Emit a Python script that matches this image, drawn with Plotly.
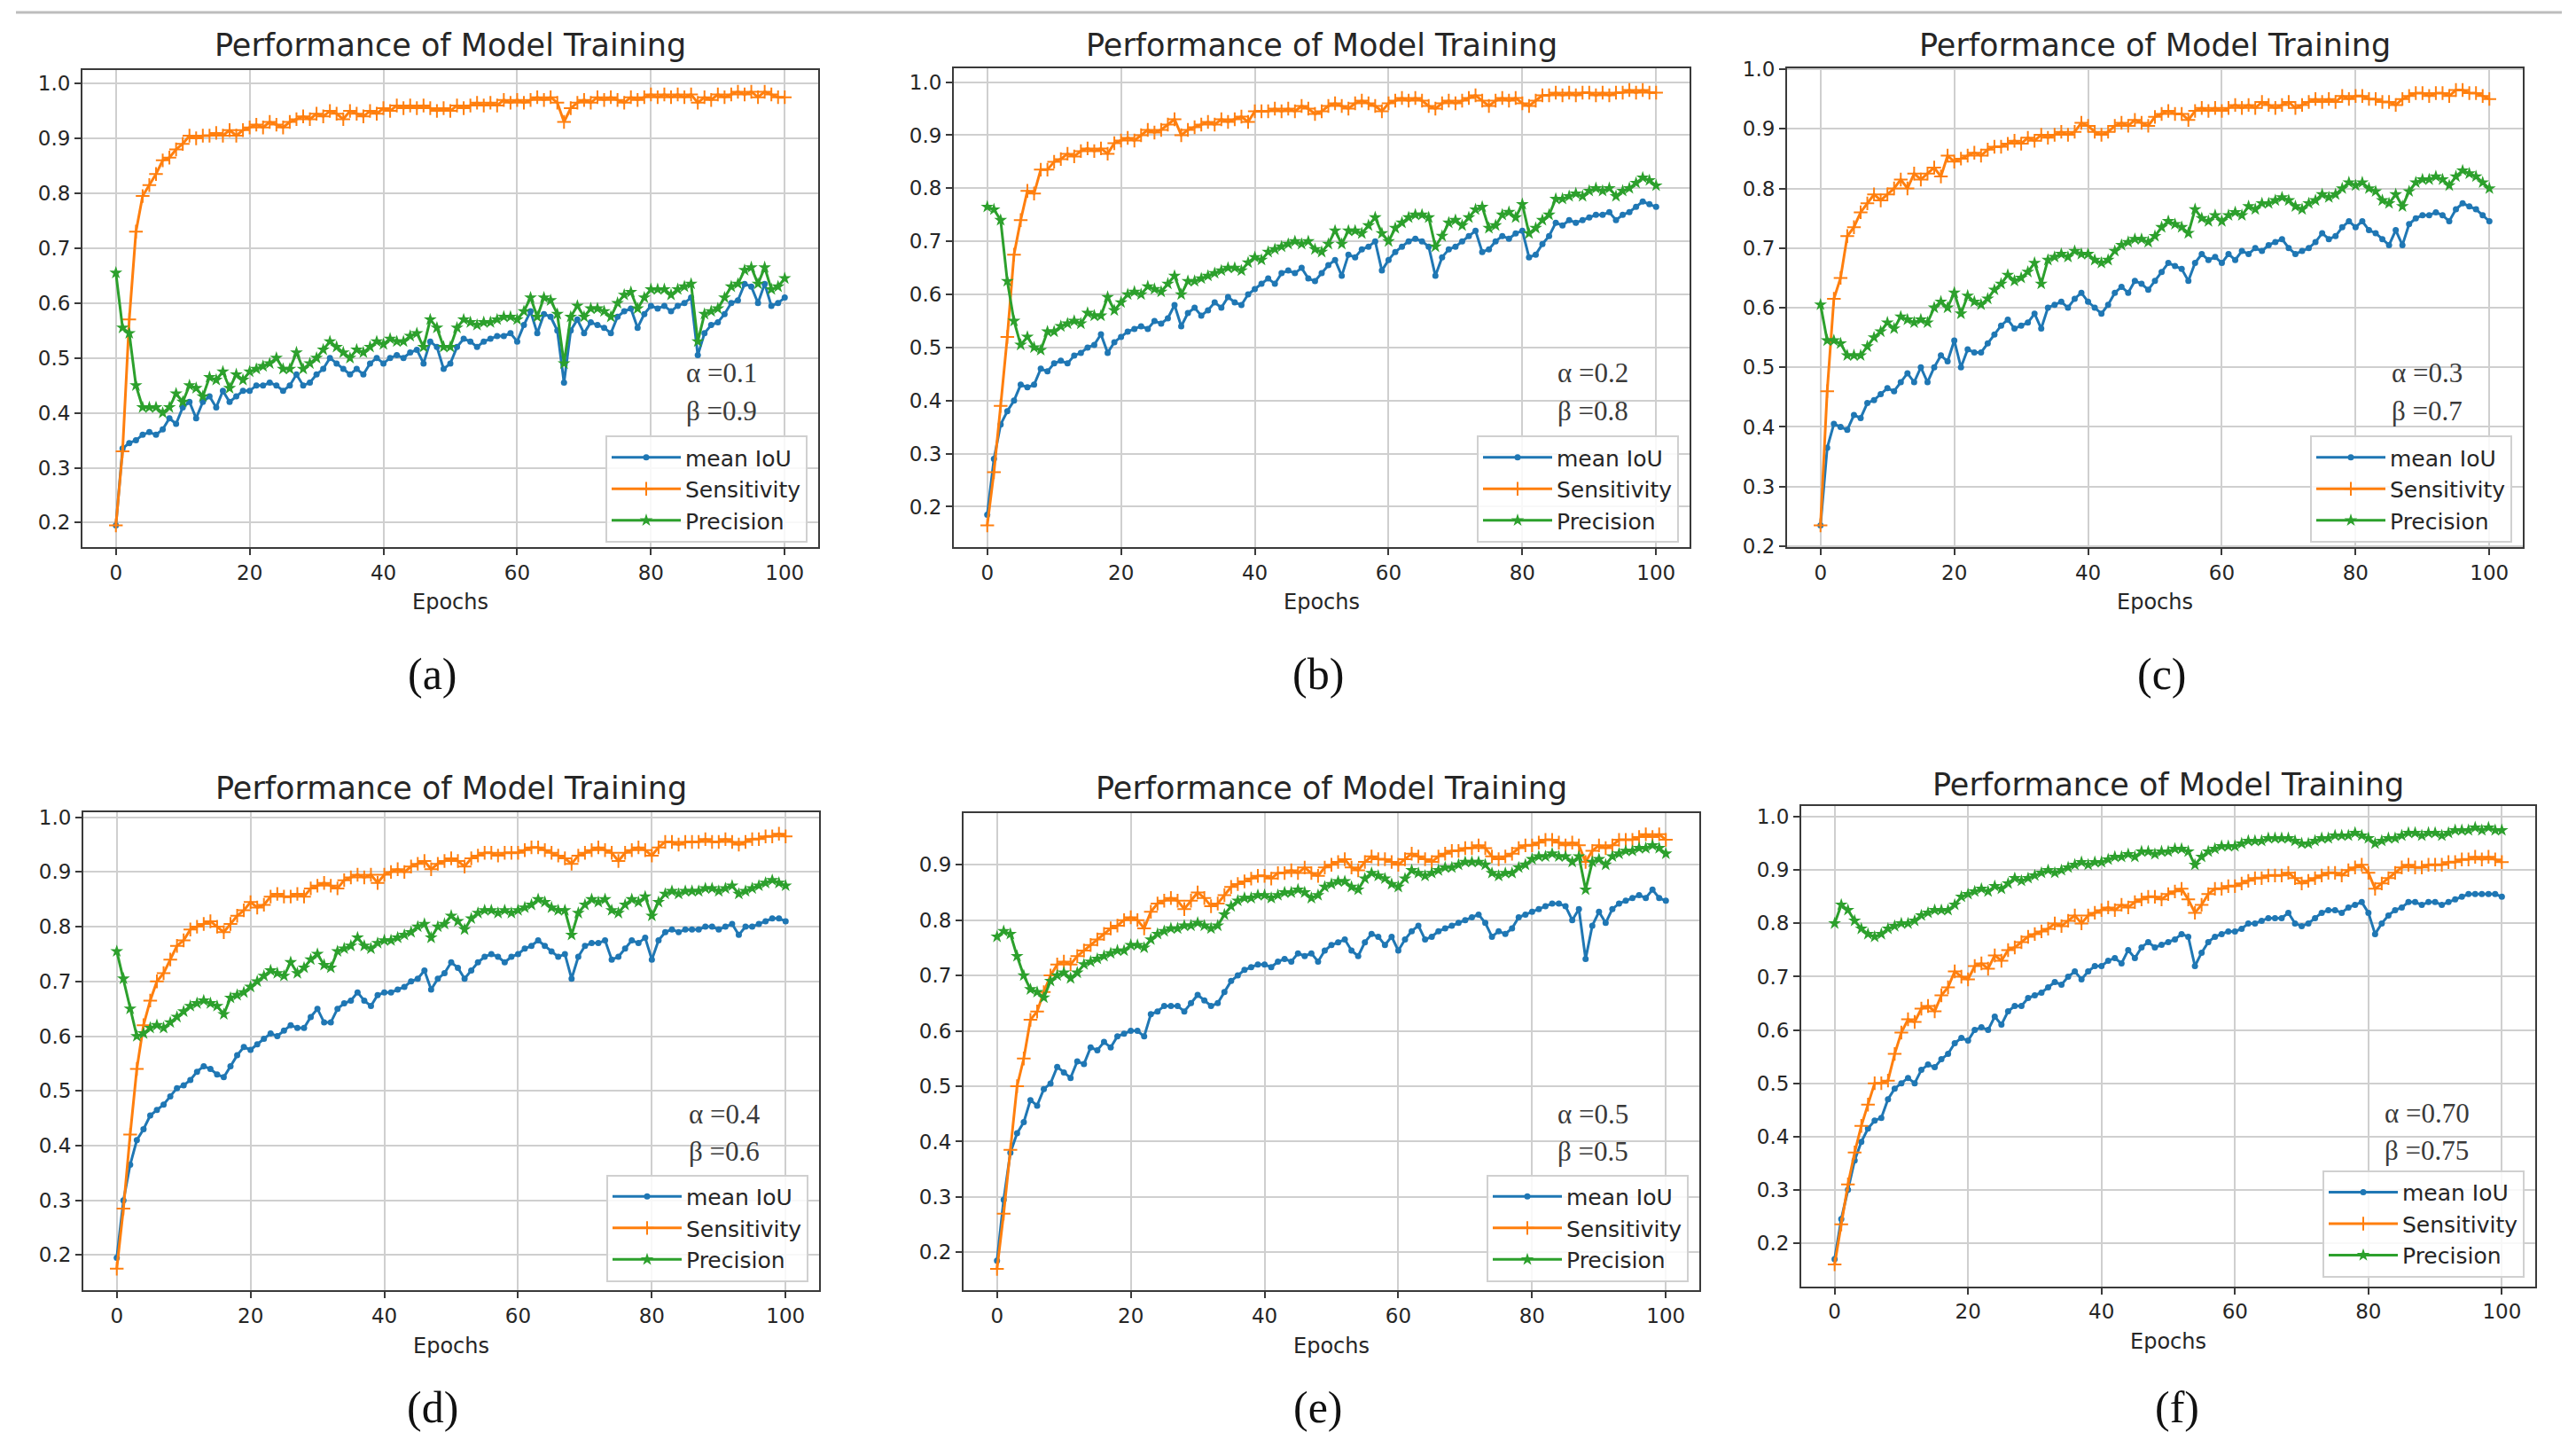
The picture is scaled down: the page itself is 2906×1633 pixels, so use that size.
import plotly.graph_objects as go

W, H = 2906, 1633

# ---------------- data ----------------
epochs = list(range(101))
series_names = ["mean IoU", "Sensitivity", "Precision"]
y_ticks = [0.2, 0.3, 0.4, 0.5, 0.6, 0.7, 0.8, 0.9, 1.0]
x_ticks = [0, 20, 40, 60, 80, 100]

a_iou = [0.195, 0.335, 0.345, 0.35, 0.36, 0.365, 0.36, 0.37, 0.39, 0.38,
         0.41, 0.42, 0.39, 0.42, 0.43, 0.41, 0.44, 0.42, 0.43, 0.44,
         0.44, 0.45, 0.45, 0.455, 0.45, 0.44, 0.45, 0.47, 0.45, 0.455,
         0.47, 0.48, 0.50, 0.49, 0.48, 0.47, 0.48, 0.47, 0.49, 0.50,
         0.49, 0.50, 0.505, 0.50, 0.51, 0.515, 0.49, 0.53, 0.52, 0.48,
         0.49, 0.52, 0.535, 0.53, 0.52, 0.53, 0.535, 0.54, 0.54, 0.545,
         0.53, 0.56, 0.585, 0.545, 0.58, 0.575, 0.55, 0.455, 0.55, 0.57,
         0.545, 0.565, 0.56, 0.555, 0.545, 0.575, 0.585, 0.59, 0.555, 0.58,
         0.595, 0.59, 0.595, 0.585, 0.595, 0.60, 0.61, 0.505, 0.545, 0.56,
         0.565, 0.58, 0.60, 0.605, 0.635, 0.63, 0.60, 0.635, 0.595, 0.60,
         0.61]
a_sens = [0.195, 0.33, 0.57, 0.73, 0.795, 0.815, 0.835, 0.86, 0.865, 0.88,
          0.89, 0.905, 0.90, 0.905, 0.905, 0.91, 0.905, 0.915, 0.905, 0.915,
          0.92, 0.925, 0.92, 0.93, 0.925, 0.92, 0.93, 0.935, 0.94, 0.935,
          0.945, 0.94, 0.95, 0.945, 0.935, 0.95, 0.945, 0.94, 0.95, 0.945,
          0.955, 0.95, 0.96, 0.955, 0.96, 0.955, 0.96, 0.955, 0.95, 0.955,
          0.95, 0.96, 0.955, 0.96, 0.965, 0.96, 0.965, 0.96, 0.97, 0.965,
          0.97, 0.965, 0.97, 0.975, 0.97, 0.975, 0.965, 0.93, 0.955, 0.965,
          0.97, 0.965, 0.975, 0.97, 0.975, 0.97, 0.965, 0.975, 0.97, 0.975,
          0.98, 0.975, 0.98, 0.975, 0.98, 0.975, 0.98, 0.965, 0.975, 0.97,
          0.98, 0.975, 0.98, 0.985, 0.98, 0.985, 0.975, 0.985, 0.98, 0.975,
          0.975]
a_prec = [0.655, 0.555, 0.545, 0.45, 0.41, 0.41, 0.41, 0.40, 0.41, 0.435,
          0.42, 0.45, 0.445, 0.43, 0.465, 0.46, 0.475, 0.445, 0.47, 0.46,
          0.475, 0.48, 0.485, 0.49, 0.50, 0.48, 0.48, 0.51, 0.48, 0.49,
          0.50, 0.515, 0.53, 0.52, 0.51, 0.50, 0.515, 0.51, 0.52, 0.53,
          0.525, 0.535, 0.53, 0.53, 0.54, 0.545, 0.52, 0.57, 0.555, 0.52,
          0.52, 0.555, 0.57, 0.565, 0.56, 0.565, 0.565, 0.57, 0.575, 0.575,
          0.57, 0.585, 0.61, 0.575, 0.61, 0.605, 0.58, 0.49, 0.575, 0.595,
          0.575, 0.59, 0.59, 0.585, 0.575, 0.60, 0.615, 0.62, 0.59, 0.61,
          0.625, 0.625, 0.625, 0.615, 0.625, 0.63, 0.635, 0.53, 0.58, 0.585,
          0.59, 0.61, 0.63, 0.635, 0.66, 0.665, 0.635, 0.665, 0.625, 0.63,
          0.645]

b_iou = [0.185, 0.29, 0.355, 0.38, 0.40, 0.43, 0.425, 0.43, 0.46, 0.455,
         0.47, 0.475, 0.47, 0.485, 0.49, 0.50, 0.505, 0.525, 0.49, 0.51,
         0.52, 0.53, 0.535, 0.54, 0.535, 0.55, 0.545, 0.555, 0.58, 0.54,
         0.565, 0.575, 0.56, 0.57, 0.585, 0.575, 0.595, 0.585, 0.58, 0.60,
         0.61, 0.62, 0.63, 0.62, 0.64, 0.645, 0.64, 0.65, 0.63, 0.625,
         0.64, 0.655, 0.665, 0.635, 0.675, 0.67, 0.685, 0.69, 0.70, 0.645,
         0.665, 0.68, 0.69, 0.70, 0.705, 0.70, 0.69, 0.635, 0.67, 0.685,
         0.69, 0.70, 0.71, 0.72, 0.68, 0.685, 0.70, 0.71, 0.705, 0.715,
         0.72, 0.67, 0.675, 0.695, 0.71, 0.735, 0.73, 0.74, 0.735, 0.74,
         0.745, 0.75, 0.75, 0.755, 0.74, 0.75, 0.755, 0.765, 0.775, 0.77,
         0.765]
b_sens = [0.165, 0.265, 0.39, 0.52, 0.675, 0.74, 0.795, 0.79, 0.835, 0.835,
          0.85, 0.855, 0.865, 0.86, 0.87, 0.875, 0.87, 0.875, 0.865, 0.885,
          0.89, 0.895, 0.89, 0.90, 0.91, 0.905, 0.91, 0.92, 0.93, 0.90,
          0.91, 0.915, 0.92, 0.925, 0.92, 0.93, 0.925, 0.93, 0.935, 0.925,
          0.945, 0.945, 0.945, 0.95, 0.945, 0.95, 0.945, 0.955, 0.95, 0.94,
          0.945, 0.955, 0.96, 0.955, 0.95, 0.96, 0.965, 0.96, 0.955, 0.945,
          0.96, 0.965, 0.97, 0.965, 0.97, 0.965, 0.955, 0.95, 0.96, 0.965,
          0.96, 0.965, 0.97, 0.975, 0.965, 0.955, 0.965, 0.97, 0.965, 0.97,
          0.96, 0.955, 0.965, 0.975, 0.975, 0.98, 0.975, 0.98, 0.975, 0.98,
          0.98, 0.975, 0.98, 0.975, 0.98, 0.98, 0.985, 0.98, 0.985, 0.98,
          0.98]
b_prec = [0.765, 0.76, 0.74, 0.625, 0.55, 0.505, 0.52, 0.50, 0.495, 0.53,
          0.53, 0.54, 0.545, 0.55, 0.545, 0.565, 0.56, 0.56, 0.595, 0.57,
          0.585, 0.60, 0.605, 0.60, 0.615, 0.61, 0.605, 0.62, 0.635, 0.60,
          0.625, 0.625, 0.63, 0.635, 0.64, 0.645, 0.65, 0.65, 0.645, 0.66,
          0.67, 0.665, 0.68, 0.685, 0.69, 0.695, 0.70, 0.695, 0.70, 0.685,
          0.68, 0.695, 0.72, 0.695, 0.72, 0.72, 0.715, 0.73, 0.745, 0.715,
          0.70, 0.725, 0.735, 0.745, 0.75, 0.75, 0.745, 0.69, 0.71, 0.735,
          0.74, 0.73, 0.745, 0.76, 0.765, 0.725, 0.73, 0.75, 0.755, 0.745,
          0.77, 0.715, 0.725, 0.74, 0.75, 0.78, 0.78, 0.785, 0.79, 0.785,
          0.795, 0.80, 0.795, 0.80, 0.785, 0.795, 0.80, 0.81, 0.82, 0.815,
          0.805]

c_iou = [0.235, 0.365, 0.405, 0.40, 0.395, 0.42, 0.415, 0.44, 0.445, 0.455,
         0.465, 0.46, 0.475, 0.49, 0.475, 0.50, 0.475, 0.50, 0.52, 0.51,
         0.545, 0.50, 0.53, 0.525, 0.525, 0.54, 0.555, 0.57, 0.58, 0.565,
         0.57, 0.575, 0.59, 0.565, 0.60, 0.605, 0.61, 0.60, 0.615, 0.625,
         0.61, 0.60, 0.59, 0.605, 0.625, 0.635, 0.625, 0.645, 0.64, 0.63,
         0.645, 0.66, 0.675, 0.67, 0.665, 0.645, 0.675, 0.69, 0.68, 0.685,
         0.675, 0.69, 0.68, 0.695, 0.69, 0.70, 0.695, 0.705, 0.71, 0.715,
         0.70, 0.69, 0.695, 0.70, 0.71, 0.725, 0.715, 0.72, 0.735, 0.745,
         0.735, 0.745, 0.73, 0.725, 0.715, 0.705, 0.73, 0.705, 0.74, 0.75,
         0.755, 0.755, 0.76, 0.755, 0.745, 0.765, 0.775, 0.77, 0.765, 0.755,
         0.745]
c_sens = [0.235, 0.46, 0.615, 0.65, 0.72, 0.735, 0.76, 0.775, 0.79, 0.78,
          0.79, 0.80, 0.815, 0.80, 0.825, 0.815, 0.825, 0.835, 0.82, 0.855,
          0.845, 0.85, 0.855, 0.86, 0.855, 0.865, 0.87, 0.87, 0.875, 0.88,
          0.875, 0.885, 0.88, 0.89, 0.885, 0.89, 0.895, 0.89, 0.895, 0.91,
          0.905, 0.895, 0.89, 0.895, 0.905, 0.91, 0.905, 0.915, 0.91, 0.905,
          0.92, 0.925, 0.93, 0.925, 0.925, 0.915, 0.93, 0.935, 0.93, 0.935,
          0.93, 0.935, 0.94, 0.935, 0.94, 0.935, 0.945, 0.94, 0.935, 0.94,
          0.945, 0.935, 0.94, 0.945, 0.95, 0.945, 0.95, 0.945, 0.955, 0.95,
          0.955, 0.955, 0.95, 0.95, 0.945, 0.945, 0.94, 0.95, 0.955, 0.96,
          0.96, 0.955, 0.96, 0.96, 0.955, 0.965, 0.965, 0.96, 0.96, 0.955,
          0.95]
c_prec = [0.605, 0.545, 0.545, 0.54, 0.52, 0.52, 0.52, 0.535, 0.55, 0.56,
          0.575, 0.565, 0.585, 0.58, 0.575, 0.58, 0.575, 0.60, 0.61, 0.60,
          0.625, 0.59, 0.62, 0.61, 0.605, 0.615, 0.63, 0.64, 0.655, 0.645,
          0.65, 0.66, 0.675, 0.64, 0.68, 0.685, 0.69, 0.685, 0.695, 0.69,
          0.69, 0.68, 0.675, 0.68, 0.695, 0.705, 0.71, 0.715, 0.715, 0.71,
          0.72, 0.735, 0.745, 0.74, 0.735, 0.725, 0.765, 0.75, 0.745, 0.755,
          0.745, 0.755, 0.76, 0.755, 0.77, 0.765, 0.775, 0.775, 0.78, 0.785,
          0.78, 0.77, 0.765, 0.775, 0.78, 0.79, 0.785, 0.79, 0.80, 0.81,
          0.805, 0.81, 0.80, 0.795, 0.78, 0.775, 0.79, 0.77, 0.795, 0.81,
          0.815, 0.815, 0.82, 0.815, 0.805, 0.82, 0.83, 0.825, 0.82, 0.81,
          0.80]

d_iou = [0.195, 0.30, 0.365, 0.41, 0.43, 0.455, 0.465, 0.475, 0.49, 0.505,
         0.51, 0.52, 0.535, 0.545, 0.54, 0.53, 0.525, 0.545, 0.565, 0.58,
         0.575, 0.585, 0.595, 0.605, 0.60, 0.61, 0.62, 0.615, 0.615, 0.635,
         0.65, 0.625, 0.625, 0.65, 0.66, 0.665, 0.68, 0.665, 0.655, 0.675,
         0.68, 0.68, 0.685, 0.69, 0.70, 0.705, 0.72, 0.685, 0.705, 0.715,
         0.735, 0.725, 0.705, 0.72, 0.735, 0.745, 0.75, 0.745, 0.735, 0.745,
         0.75, 0.76, 0.765, 0.775, 0.765, 0.755, 0.745, 0.75, 0.705, 0.745,
         0.765, 0.77, 0.77, 0.775, 0.74, 0.745, 0.76, 0.775, 0.77, 0.78,
         0.74, 0.775, 0.79, 0.795, 0.79, 0.795, 0.795, 0.795, 0.80, 0.80,
         0.795, 0.80, 0.805, 0.785, 0.80, 0.80, 0.805, 0.81, 0.815, 0.815,
         0.81]
d_sens = [0.175, 0.285, 0.42, 0.54, 0.62, 0.665, 0.70, 0.715, 0.74, 0.765,
          0.775, 0.795, 0.80, 0.805, 0.81, 0.80, 0.79, 0.805, 0.82, 0.83,
          0.845, 0.835, 0.84, 0.855, 0.86, 0.855, 0.855, 0.86, 0.855, 0.87,
          0.875, 0.88, 0.875, 0.87, 0.885, 0.89, 0.895, 0.89, 0.895, 0.88,
          0.895, 0.90, 0.905, 0.90, 0.91, 0.915, 0.92, 0.905, 0.915, 0.92,
          0.925, 0.92, 0.91, 0.925, 0.93, 0.935, 0.935, 0.93, 0.935, 0.935,
          0.935, 0.94, 0.945, 0.945, 0.94, 0.935, 0.93, 0.925, 0.915, 0.93,
          0.935, 0.94, 0.945, 0.94, 0.935, 0.92, 0.935, 0.94, 0.945, 0.94,
          0.93, 0.945, 0.955, 0.955, 0.95, 0.955, 0.955, 0.955, 0.96, 0.955,
          0.955, 0.96, 0.955, 0.95, 0.955, 0.96, 0.96, 0.965, 0.965, 0.97,
          0.965]
d_prec = [0.755, 0.705, 0.65, 0.60, 0.605, 0.615, 0.62, 0.615, 0.625, 0.635,
          0.645, 0.655, 0.66, 0.665, 0.66, 0.655, 0.64, 0.67, 0.675, 0.68,
          0.69, 0.70, 0.71, 0.72, 0.715, 0.71, 0.735, 0.715, 0.725, 0.74,
          0.75, 0.73, 0.725, 0.755, 0.76, 0.765, 0.78, 0.765, 0.76, 0.77,
          0.775, 0.775, 0.78, 0.785, 0.79, 0.80, 0.805, 0.78, 0.80, 0.805,
          0.82, 0.81, 0.795, 0.815, 0.825, 0.83, 0.83, 0.825, 0.83, 0.825,
          0.83, 0.835, 0.84, 0.85, 0.845, 0.835, 0.83, 0.83, 0.785, 0.825,
          0.84, 0.85, 0.845, 0.85, 0.83, 0.825, 0.84, 0.85, 0.845, 0.855,
          0.82, 0.845, 0.86, 0.865, 0.86, 0.865, 0.865, 0.865, 0.87, 0.87,
          0.865, 0.87, 0.875, 0.86, 0.865, 0.87, 0.875, 0.88, 0.885, 0.88,
          0.875]

e_iou = [0.185, 0.295, 0.38, 0.415, 0.435, 0.475, 0.465, 0.495, 0.505, 0.535,
         0.525, 0.515, 0.545, 0.54, 0.57, 0.565, 0.58, 0.57, 0.59, 0.595,
         0.60, 0.60, 0.59, 0.63, 0.635, 0.645, 0.645, 0.645, 0.635, 0.65,
         0.665, 0.655, 0.645, 0.65, 0.67, 0.69, 0.70, 0.71, 0.715, 0.72,
         0.72, 0.715, 0.725, 0.73, 0.725, 0.74, 0.735, 0.74, 0.725, 0.745,
         0.755, 0.76, 0.765, 0.745, 0.735, 0.76, 0.775, 0.77, 0.755, 0.77,
         0.745, 0.765, 0.78, 0.79, 0.765, 0.77, 0.78, 0.785, 0.79, 0.795,
         0.80, 0.805, 0.81, 0.795, 0.77, 0.78, 0.775, 0.785, 0.805, 0.81,
         0.815, 0.82, 0.825, 0.83, 0.83, 0.825, 0.80, 0.82, 0.73, 0.79,
         0.815, 0.795, 0.82, 0.83, 0.835, 0.84, 0.845, 0.84, 0.855, 0.84,
         0.835]
e_sens = [0.17, 0.27, 0.385, 0.50, 0.55, 0.62, 0.635, 0.67, 0.70, 0.72,
          0.725, 0.72, 0.735, 0.745, 0.755, 0.765, 0.775, 0.785, 0.79, 0.80,
          0.805, 0.80, 0.785, 0.815, 0.83, 0.835, 0.84, 0.835, 0.82, 0.835,
          0.85, 0.84, 0.825, 0.83, 0.845, 0.86, 0.865, 0.87, 0.875, 0.88,
          0.88, 0.875, 0.885, 0.885, 0.89, 0.885, 0.895, 0.885, 0.88, 0.895,
          0.90, 0.905, 0.91, 0.895, 0.89, 0.905, 0.915, 0.91, 0.91, 0.905,
          0.90, 0.91, 0.92, 0.915, 0.91, 0.905, 0.915, 0.92, 0.925, 0.925,
          0.93, 0.93, 0.935, 0.93, 0.915, 0.91, 0.915, 0.92, 0.93, 0.935,
          0.935, 0.94, 0.945, 0.945, 0.94, 0.935, 0.94, 0.935, 0.905, 0.925,
          0.935, 0.93, 0.935, 0.945, 0.945, 0.945, 0.95, 0.955, 0.95, 0.955,
          0.945]
e_prec = [0.77, 0.78, 0.775, 0.735, 0.70, 0.675, 0.67, 0.66, 0.69, 0.70,
          0.705, 0.695, 0.705, 0.72, 0.725, 0.73, 0.735, 0.74, 0.745, 0.745,
          0.755, 0.755, 0.75, 0.765, 0.775, 0.78, 0.785, 0.785, 0.79, 0.79,
          0.795, 0.79, 0.785, 0.79, 0.81, 0.825, 0.835, 0.84, 0.84, 0.845,
          0.845, 0.84, 0.845, 0.85, 0.85, 0.855, 0.85, 0.84, 0.845, 0.86,
          0.865, 0.87, 0.87, 0.86, 0.855, 0.875, 0.885, 0.88, 0.875, 0.865,
          0.86, 0.875, 0.89, 0.885, 0.88, 0.885, 0.89, 0.895, 0.895, 0.90,
          0.905, 0.905, 0.905, 0.90, 0.885, 0.88, 0.885, 0.885, 0.895, 0.90,
          0.91, 0.915, 0.915, 0.92, 0.915, 0.915, 0.905, 0.915, 0.855, 0.905,
          0.91, 0.90, 0.915, 0.92, 0.925, 0.925, 0.93, 0.93, 0.935, 0.93,
          0.92]

f_iou = [0.17, 0.245, 0.30, 0.355, 0.39, 0.415, 0.43, 0.435, 0.47, 0.49,
         0.50, 0.51, 0.50, 0.525, 0.535, 0.53, 0.545, 0.555, 0.575, 0.585,
         0.58, 0.60, 0.605, 0.60, 0.625, 0.61, 0.635, 0.645, 0.645, 0.66,
         0.665, 0.67, 0.68, 0.69, 0.685, 0.70, 0.71, 0.695, 0.71, 0.72,
         0.72, 0.73, 0.735, 0.725, 0.75, 0.735, 0.755, 0.765, 0.755, 0.76,
         0.765, 0.77, 0.78, 0.775, 0.72, 0.745, 0.765, 0.775, 0.78, 0.785,
         0.785, 0.79, 0.80, 0.80, 0.805, 0.81, 0.81, 0.81, 0.82, 0.80,
         0.795, 0.80, 0.81, 0.82, 0.825, 0.825, 0.82, 0.83, 0.835, 0.84,
         0.82, 0.78, 0.80, 0.815, 0.825, 0.83, 0.84, 0.84, 0.835, 0.84,
         0.84, 0.835, 0.84, 0.845, 0.85, 0.855, 0.855, 0.855, 0.855, 0.855,
         0.85]
f_sens = [0.16, 0.235, 0.31, 0.37, 0.42, 0.46, 0.50, 0.50, 0.505, 0.555,
          0.595, 0.62, 0.615, 0.64, 0.645, 0.635, 0.665, 0.68, 0.71, 0.70,
          0.695, 0.72, 0.725, 0.715, 0.74, 0.73, 0.75, 0.755, 0.765, 0.775,
          0.78, 0.785, 0.79, 0.80, 0.795, 0.805, 0.815, 0.80, 0.815, 0.82,
          0.825, 0.83, 0.825, 0.835, 0.83, 0.84, 0.845, 0.85, 0.85, 0.845,
          0.855, 0.86, 0.865, 0.845, 0.82, 0.835, 0.855, 0.865, 0.865, 0.87,
          0.87, 0.875, 0.88, 0.885, 0.885, 0.89, 0.89, 0.89, 0.895, 0.885,
          0.875, 0.88, 0.885, 0.89, 0.895, 0.895, 0.89, 0.90, 0.905, 0.91,
          0.895, 0.865, 0.875, 0.885, 0.895, 0.905, 0.91, 0.905, 0.905, 0.91,
          0.91, 0.91, 0.915, 0.915, 0.92, 0.92, 0.925, 0.92, 0.925, 0.92,
          0.915]
f_prec = [0.80, 0.835, 0.825, 0.805, 0.79, 0.78, 0.775, 0.78, 0.79, 0.795,
          0.80, 0.80, 0.805, 0.815, 0.82, 0.825, 0.825, 0.825, 0.835, 0.85,
          0.855, 0.86, 0.865, 0.86, 0.87, 0.865, 0.875, 0.885, 0.88, 0.885,
          0.89, 0.895, 0.90, 0.895, 0.90, 0.905, 0.91, 0.915, 0.91, 0.915,
          0.915, 0.92, 0.925, 0.925, 0.93, 0.925, 0.935, 0.935, 0.93, 0.935,
          0.935, 0.94, 0.94, 0.935, 0.91, 0.925, 0.935, 0.94, 0.945, 0.945,
          0.945, 0.95, 0.955, 0.955, 0.955, 0.96, 0.96, 0.96, 0.96, 0.955,
          0.95, 0.95, 0.955, 0.96, 0.96, 0.965, 0.965, 0.965, 0.97, 0.965,
          0.96, 0.95, 0.955, 0.96, 0.96, 0.965, 0.97, 0.97, 0.965, 0.97,
          0.97, 0.965, 0.97, 0.975, 0.975, 0.975, 0.98, 0.975, 0.98, 0.975,
          0.975]

alpha_labels = ["α =0.1", "α =0.2", "α =0.3", "α =0.4", "α =0.5", "α =0.70"]
beta_labels = ["β =0.9", "β =0.8", "β =0.7", "β =0.6", "β =0.5", "β =0.75"]
captions = ["(a)", "(b)", "(c)", "(d)", "(e)", "(f)"]
title_text = "Performance of Model Training"
x_label = "Epochs"

# ---------------- layout geometry (pixels in the 2906x1633 page) ----------------
panels = [
    dict(data=(a_iou, a_sens, a_prec), box=(93, 68, 923, 614), yr=(0.1555, 1.0245),
         ab=(772, 415, 458), cap=(488, 759), ttl=40, leg=5),
    dict(data=(b_iou, b_sens, b_prec), box=(1076, 66, 1906, 614), yr=(0.124, 1.026),
         ab=(1755, 415, 458), cap=(1487, 759), ttl=40, leg=5),
    dict(data=(c_iou, c_sens, c_prec), box=(2016, 66, 2846, 614), yr=(0.1985, 1.0015),
         ab=(2696, 415, 458), cap=(2439, 759), ttl=40, leg=5),
    dict(data=(d_iou, d_sens, d_prec), box=(94, 917, 924, 1465), yr=(0.135, 1.010),
         ab=(775, 1263, 1306), cap=(488, 1598), ttl=890, leg=10),
    dict(data=(e_iou, e_sens, e_prec), box=(1087, 918, 1917, 1465), yr=(0.131, 0.994),
         ab=(1755, 1263, 1306), cap=(1487, 1598), ttl=890, leg=10),
    dict(data=(f_iou, f_sens, f_prec), box=(2032, 910, 2860, 1460), yr=(0.119, 1.021),
         ab=(2688, 1262, 1305), cap=(2456, 1598), ttl=886, leg=10),
]

colors = ["#1f77b4", "#ff7f0e", "#2ca02c"]
symbols = ["circle", "cross-thin", "star"]
msizes = [7, 11, 11]


def px(x):
    return x / W


def py(y):
    return 1 - y / H


SANS = "DejaVu Sans"
SERIF = "Liberation Serif"
TXT = "#262626"

fig = go.Figure()
layout = dict(
    width=W, height=H, margin=dict(l=0, r=0, t=0, b=0),
    paper_bgcolor="white", plot_bgcolor="white",
    font=dict(family=SANS, size=23, color=TXT),
    annotations=[], shapes=[],
)

for i, p in enumerate(panels):
    k = "" if i == 0 else str(i + 1)
    x0, y0, x1, y1 = p["box"]
    xa, ya = "x" + k, "y" + k
    leg = "legend" + k
    for j in range(3):
        fig.add_trace(go.Scatter(
            x=epochs, y=p["data"][j], name=series_names[j],
            mode="lines+markers", xaxis=xa, yaxis=ya, legend=leg,
            line=dict(color=colors[j], width=3),
            marker=dict(symbol=symbols[j], size=msizes[j], color=colors[j],
                        line=dict(color=colors[j], width=2 if j == 1 else 0)),
        ))
    axis_common = dict(showgrid=True, gridcolor="#cfcfcf", gridwidth=2,
                       showline=True, linecolor="#3a3a3a", linewidth=2, mirror=True,
                       ticks="outside", ticklen=7, tickwidth=2, tickcolor="#3a3a3a",
                       zeroline=False, tickfont=dict(family=SANS, size=23, color=TXT))
    layout["xaxis" + k] = dict(axis_common, domain=[px(x0), px(x1)], range=[-5, 105],
                               tickvals=x_ticks, anchor=ya)
    layout["yaxis" + k] = dict(axis_common, domain=[py(y1), py(y0)], range=list(p["yr"]),
                               tickvals=y_ticks, ticktext=["%.1f" % v for v in y_ticks],
                               anchor=xa)
    layout[leg] = dict(x=px(x1 - 12), y=py(y1 - p["leg"]), xanchor="right", yanchor="bottom",
                       bgcolor="rgba(255,255,255,0.85)", bordercolor="#d0d0d0", borderwidth=2,
                       font=dict(family=SANS, size=25, color=TXT), tracegroupgap=0,
                       itemwidth=78)
    cx = (x0 + x1) / 2
    layout["annotations"] += [
        dict(text=title_text, x=px(cx), y=py(p["ttl"]), xref="paper", yref="paper",
             xanchor="center", yanchor="middle", showarrow=False,
             font=dict(family=SANS, size=35, color=TXT)),
        dict(text=x_label, x=px(cx), y=py(y1 + 63), xref="paper", yref="paper",
             xanchor="center", yanchor="middle", showarrow=False,
             font=dict(family=SANS, size=24, color=TXT)),
        dict(text=alpha_labels[i], x=px(p["ab"][0]), y=py(p["ab"][1]), xref="paper", yref="paper",
             xanchor="left", yanchor="middle", showarrow=False,
             font=dict(family=SERIF, size=31, color="#3a3a3a")),
        dict(text=beta_labels[i], x=px(p["ab"][0]), y=py(p["ab"][2]), xref="paper", yref="paper",
             xanchor="left", yanchor="middle", showarrow=False,
             font=dict(family=SERIF, size=31, color="#3a3a3a")),
        dict(text=captions[i], x=px(p["cap"][0]), y=py(p["cap"][1]), xref="paper", yref="paper",
             xanchor="center", yanchor="middle", showarrow=False,
             font=dict(family=SERIF, size=50, color="#111111")),
    ]

layout["shapes"].append(dict(type="line", xref="paper", yref="paper",
                             x0=px(18), x1=px(2890), y0=py(2), y1=py(2),
                             line=dict(color="#bdbdbd", width=3)))

fig.update_layout(**layout)
fig.write_html("out.html", config={"displayModeBar": False},
               post_script="document.body.style.margin='0';")
